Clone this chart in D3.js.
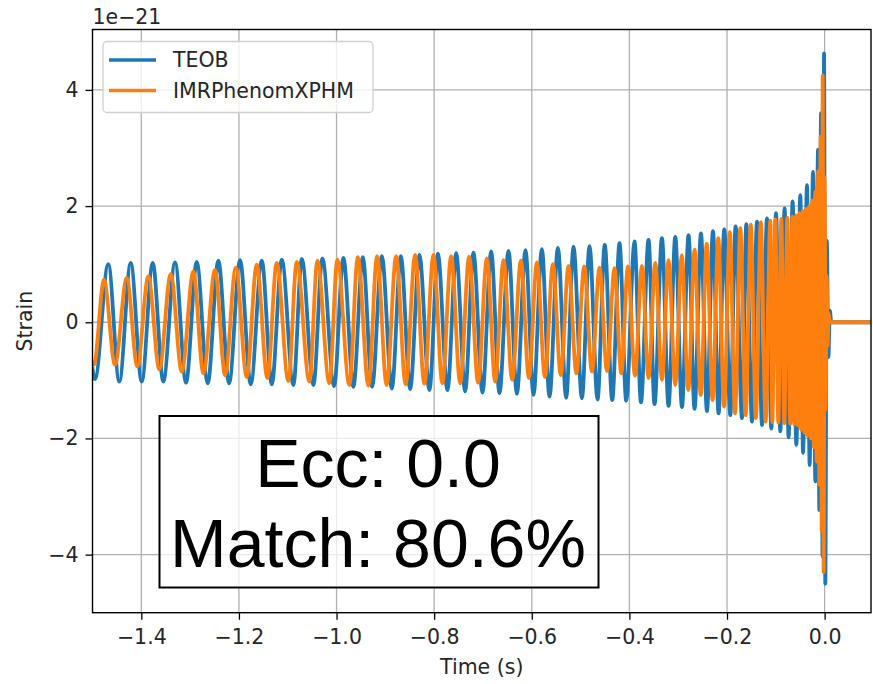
<!DOCTYPE html>
<html>
<head>
<meta charset="utf-8">
<script src="https://cdn.jsdelivr.net/npm/d3@7"></script>
<style>
  html, body { margin: 0; padding: 0; background: #fff; }
  svg { display: block; }
  text { font-family: "DejaVu Sans", sans-serif; fill: #262626; }
</style>
</head>
<body>
<svg id="chart" width="873" height="684"></svg>
<script>
// ---------------- data (strain in units of 1e-21, time in s) ----------------
const xTicks = [-1.4, -1.2, -1.0, -0.8, -0.6, -0.4, -0.2, 0.0];
const yTicks = [-4, -2, 0, 2, 4];
const seriesNames = ["TEOB", "IMRPhenomXPHM"];
const seriesColors = ["#1f77b4", "#ff7f0e"];
const annotationLines = ["Ecc: 0.0", "Match: 80.6%"];

// TEOB: successive extrema
const teobT = [
 -1.5000,-1.4949,-1.4677,-1.4451,-1.4217,-1.3992,-1.3766,-1.3549,-1.3309,-1.3084,
 -1.2865,-1.2639,-1.2422,-1.2202,-1.1977,-1.1758,-1.1532,-1.1327,-1.1122,-1.0884,
 -1.0712,-1.0474,-1.0290,-1.0050,-0.9860,-0.9655,-0.9462,-0.9271,-0.9072,-0.8867,
 -0.8683,-0.8492,-0.8302,-0.8097,-0.7924,-0.7728,-0.7549,-0.7365,-0.7195,-0.7010,
 -0.6832,-0.6662,-0.6477,-0.6305,-0.6129,-0.5965,-0.5793,-0.5637,-0.5465,-0.5295,
 -0.5145,-0.4973,-0.4817,-0.4653,-0.4505,-0.4352,-0.4202,-0.4065,-0.3895,-0.3763,
 -0.3608,-0.3485,-0.3333,-0.3198,-0.3060,-0.2923,-0.2788,-0.2665,-0.2534,-0.2411,
 -0.2288,-0.2173,-0.2056,-0.1933,-0.1824,-0.1693,-0.1605,-0.1488,-0.1386,-0.1283,
 -0.1181,-0.1093,-0.0996,-0.0908,-0.0820,-0.0738,-0.0656,-0.0580,-0.0498,-0.0443,
 -0.0361,-0.0307,-0.0238,-0.0191,-0.0135,-0.0109,-0.0074,-0.0043,-0.0012, 0.0014,
  0.0045, 0.0076, 0.0107, 0.0137, 0.0950];
const teobH = [
 -0.80,-0.98, 1.00,-1.02, 1.02,-1.02, 1.02,-1.02, 1.03,-1.04,
  1.04,-1.05, 1.06,-1.05, 1.07,-1.07, 1.06,-1.07, 1.08,-1.08,
  1.09,-1.08, 1.10,-1.10, 1.11,-1.11, 1.12,-1.11, 1.14,-1.14,
  1.14,-1.15, 1.16,-1.17, 1.18,-1.17, 1.19,-1.19, 1.20,-1.21,
  1.22,-1.22, 1.23,-1.23, 1.24,-1.25, 1.26,-1.28, 1.28,-1.30,
  1.30,-1.31, 1.31,-1.33, 1.33,-1.34, 1.36,-1.35, 1.39,-1.38,
  1.42,-1.41, 1.45,-1.44, 1.47,-1.46, 1.50,-1.49, 1.53,-1.53,
  1.57,-1.57, 1.60,-1.60, 1.65,-1.65, 1.69,-1.71, 1.73,-1.77,
  1.79,-1.83, 1.88,-1.88, 1.96,-1.98, 2.08,-2.11, 2.19,-2.25,
  2.36,-2.46, 2.59,-2.74, 2.97,-3.23, 3.60,-4.03, 4.63,-4.50,
  1.40,-0.60, 0.20, 0.00, 0.00];

// IMRPhenomXPHM: successive extrema
const xphmT = [
 -1.5000,-1.4970,-1.4765,-1.4539,-1.4299,-1.4082,-1.3857,-1.3631,-1.3397,-1.3172,
 -1.2934,-1.2729,-1.2490,-1.2284,-1.2065,-1.1840,-1.1635,-1.1417,-1.1225,-1.0987,
 -1.0815,-1.0556,-1.0392,-1.0147,-0.9983,-0.9737,-0.9564,-0.9347,-0.9169,-0.8974,
 -0.8779,-0.8585,-0.8390,-0.8201,-0.8015,-0.7832,-0.7652,-0.7467,-0.7283,-0.7100,
 -0.6920,-0.6750,-0.6580,-0.6402,-0.6223,-0.6059,-0.5895,-0.5731,-0.5567,-0.5407,
 -0.5247,-0.5086,-0.4926,-0.4768,-0.4612,-0.4458,-0.4305,-0.4167,-0.4030,-0.3886,
 -0.3743,-0.3608,-0.3470,-0.3333,-0.3198,-0.3060,-0.2927,-0.2794,-0.2665,-0.2538,
 -0.2415,-0.2296,-0.2179,-0.2060,-0.1943,-0.1835,-0.1728,-0.1619,-0.1513,-0.1410,
 -0.1308,-0.1209,-0.1113,
 -0.1072,-0.1011,-0.0949,-0.0888,-0.0826,-0.0765,-0.0703,-0.0662,-0.0621,-0.0584,
 -0.0547,-0.0514,-0.0482,-0.0449,-0.0416,-0.0383,-0.0351,-0.0318,-0.0285,-0.0252,
 -0.0221,-0.0191,-0.0162,-0.0133,-0.0107,-0.0082,-0.0059,-0.0039,-0.0020, 0.0000,
  0.0020, 0.0041, 0.0061, 0.0082, 0.0107, 0.0950];
const xphmH = [
 -0.70,-0.73, 0.73,-0.73, 0.76,-0.76, 0.79,-0.81, 0.83,-0.85,
  0.87,-0.88, 0.90,-0.91, 0.94,-0.94, 0.99,-0.96, 1.02,-1.01,
  1.04,-1.02, 1.06,-1.05, 1.08,-1.08, 1.12,-1.09, 1.14,-1.08,
  1.14,-1.07, 1.16,-1.06, 1.16,-1.05, 1.14,-1.05, 1.13,-1.04,
  1.10,-1.02, 1.07,-0.99, 1.06,-0.96, 1.03,-0.94, 1.00,-0.91,
  0.97,-0.88, 0.96,-0.85, 0.94,-0.84, 0.93,-0.88, 0.96,-0.92,
  0.97,-0.96, 1.02,-0.99, 1.07,-1.08, 1.15,-1.17, 1.25,-1.25,
  1.35,-1.34, 1.45,-1.45, 1.55,-1.57, 1.62,-1.60, 1.68,-1.65,
  1.72,-1.71, 1.75,
 -1.72, 1.77,-1.73, 1.78,-1.74, 1.80,-1.75, 1.82,-1.76, 1.84,
 -1.78, 1.88,-1.85, 1.92,-1.90, 1.95,-1.95, 2.00,-2.00, 2.10,
 -2.15, 2.25,-2.40, 2.60,-2.80, 3.20,-3.60, 4.25,-4.30, 2.50,
 -1.50, 0.80,-0.40, 0.15, 0.00, 0.00];

// ---------------- layout ----------------
const plot = { left: 92.5, right: 871, top: 29.5, bottom: 612.7 };
const svg = d3.select("#chart");

const x = d3.scaleLinear().domain([-1.5, 0.095]).range([plot.left, plot.right]);
const y = d3.scaleLinear().domain([-5.0, 5.04]).range([plot.bottom, plot.top]);

svg.append("defs").append("clipPath").attr("id", "clip")
  .append("rect")
  .attr("x", plot.left).attr("y", plot.top)
  .attr("width", plot.right - plot.left).attr("height", plot.bottom - plot.top);

// grid
const grid = svg.append("g").attr("stroke", "#b0b0b0").attr("stroke-width", 1.3);
grid.selectAll("line.gx").data(xTicks).join("line")
  .attr("x1", d => x(d)).attr("x2", d => x(d))
  .attr("y1", plot.top).attr("y2", plot.bottom);
grid.selectAll("line.gy").data(yTicks).join("line")
  .attr("y1", d => y(d)).attr("y2", d => y(d))
  .attr("x1", plot.left).attr("x2", plot.right);

// series
const series = [
  { name: seriesNames[0], color: seriesColors[0], t: teobT, h: teobH },
  { name: seriesNames[1], color: seriesColors[1], t: xphmT, h: xphmH }
];
const line = d3.line()
  .x(d => x(d[0])).y(d => y(d[1]))
  .curve(d3.curveMonotoneX);

const lines = svg.append("g").attr("clip-path", "url(#clip)");
series.forEach(s => {
  lines.append("path")
    .datum(s.t.map((t, i) => [t, s.h[i]]))
    .attr("fill", "none")
    .attr("stroke", s.color)
    .attr("stroke-width", 3.8)
    .attr("stroke-linejoin", "round")
    .attr("stroke-linecap", "square")
    .attr("d", line);
});

// axes
const xAxis = d3.axisBottom(x).tickValues(xTicks).tickFormat(d3.format(".1f"))
  .tickSize(7).tickPadding(5);
const yAxis = d3.axisLeft(y).tickValues(yTicks).tickFormat(d3.format("d"))
  .tickSize(7).tickPadding(7);

const gx = svg.append("g").attr("transform", `translate(0,${plot.bottom})`).call(xAxis);
const gy = svg.append("g").attr("transform", `translate(${plot.left},0)`).call(yAxis);
[gx, gy].forEach(g => {
  g.select(".domain").remove();
  g.selectAll(".tick line").attr("stroke", "#000").attr("stroke-width", 1.3);
  g.selectAll(".tick text").attr("font-family", "DejaVu Sans").attr("font-size", 20.5).attr("fill", "#262626");
});
gx.selectAll(".tick text").attr("dy", "0.95em");

// spines
svg.append("rect")
  .attr("x", plot.left).attr("y", plot.top)
  .attr("width", plot.right - plot.left).attr("height", plot.bottom - plot.top)
  .attr("fill", "none").attr("stroke", "#000").attr("stroke-width", 1.4);

// offset text
svg.append("text").attr("x", plot.left).attr("y", 24)
  .attr("font-size", 20.5).text("1e\u221221");

// axis labels
svg.append("text").attr("x", (plot.left + plot.right) / 2).attr("y", 674)
  .attr("text-anchor", "middle").attr("font-size", 20.5).text("Time (s)");
svg.append("text").attr("transform", `translate(31.5,${(plot.top + plot.bottom) / 2}) rotate(-90)`)
  .attr("text-anchor", "middle").attr("font-size", 20.5).text("Strain");

// legend
const lg = svg.append("g");
lg.append("rect").attr("x", 103).attr("y", 41.5).attr("width", 270).attr("height", 71)
  .attr("rx", 4).attr("fill", "#fff").attr("fill-opacity", 0.8)
  .attr("stroke", "#d0d0d0").attr("stroke-width", 1.3);
series.forEach((s, i) => {
  const yy = 60 + i * 30.5;
  lg.append("line").attr("x1", 109).attr("x2", 156).attr("y1", yy).attr("y2", yy)
    .attr("stroke", s.color).attr("stroke-width", 3.3);
  lg.append("text").attr("x", 173).attr("y", yy).attr("dy", "0.36em")
    .attr("font-size", 20.5).text(s.name);
});

// annotation box
const ab = svg.append("g");
ab.append("rect").attr("x", 159.5).attr("y", 416).attr("width", 439).attr("height", 171.5)
  .attr("fill", "#fff").attr("fill-opacity", 0.75)
  .attr("stroke", "#000").attr("stroke-width", 2);
annotationLines.forEach((txt, i) => {
  ab.append("text").attr("x", 378).attr("y", 486.5 + i * 80)
    .attr("text-anchor", "middle")
    .style("font-family", "'Liberation Sans', Arial, Helvetica, sans-serif")
    .style("fill", "#000")
    .attr("font-size", 68)
    .text(txt);
});
</script>
</body>
</html>
